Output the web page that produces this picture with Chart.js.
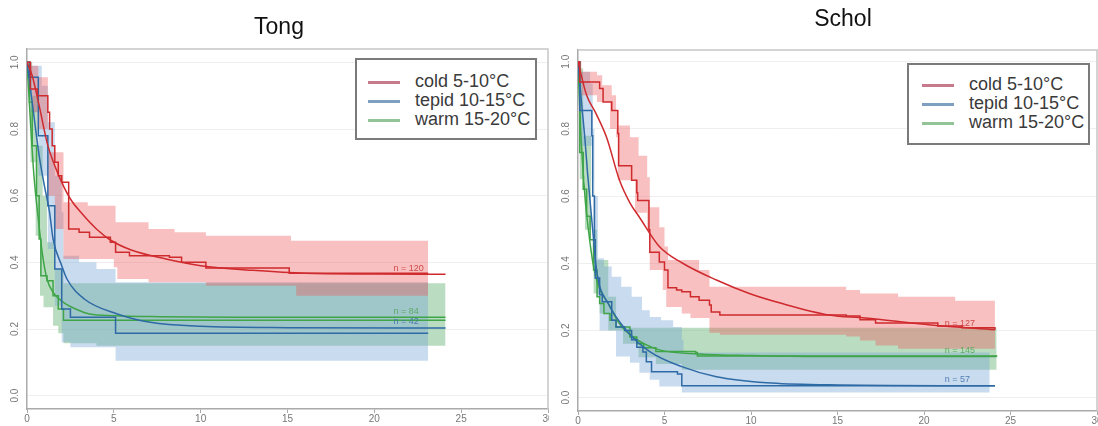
<!DOCTYPE html>
<html>
<head>
<meta charset="utf-8">
<script src="https://cdn.jsdelivr.net/npm/chart.js@4.4.1/dist/chart.umd.min.js"></script>
<style>
  body { margin: 0; background: #fff; font-family: "Liberation Sans", Arial, sans-serif; }
  #wrap { position: relative; width: 1098px; height: 426px; overflow: hidden; }
  .panel { position: absolute; top: 0; width: 549px; height: 426px; }
  .title { position: absolute; font-size: 23px; line-height: 23px; color: #111; transform: translateX(-50%); white-space: nowrap; }
  .legend { position: absolute; box-sizing: border-box; border: 2px solid #7a7a7a; background: #fff; height: 82px; }
  .legend div { height: 19px; line-height: 19px; font-size: 18px; color: #3a3a3a; white-space: nowrap; }
  .legend span { display: inline-block; width: 32px; height: 3px; vertical-align: middle; margin-right: 15px; }
</style>
</head>
<body>
<div id="wrap">
  <div class="panel" style="left:0"><canvas id="tong" width="549" height="426"></canvas></div>
  <div class="panel" style="left:549px"><canvas id="schol" width="549" height="426"></canvas></div>
  <div class="title" style="left:279px;top:15px">Tong</div>
  <div class="title" style="left:843px;top:7px">Schol</div>
  <div class="legend" id="legTong" style="left:355px;top:58px;width:182px;padding:12px 0 0 11px"></div>
  <div class="legend" id="legSchol" style="left:907px;top:63px;width:183px;padding:10px 0 0 13px"></div>
</div>
<script>
// axes
const xTicks = [0, 5, 10, 15, 20, 25, 30];
const yTicks = [0, 0.2, 0.4, 0.6, 0.8, 1.0];

const groups = ["cold 5-10°C", "tepid 10-15°C", "warm 15-20°C"];
const lineColors = ["#cf2a2e", "#2e6aa6", "#3fa548"];
const bandColors = ["rgba(236,90,90,0.38)", "rgba(120,165,212,0.40)", "rgba(90,172,105,0.42)"];
const legendColors = ["#c77a8c", "#7d9fc0", "#92c496"];

// Tong : [tiempo, supervivencia]
const tongColdKM = [[0,1],[0.2,0.92],[0.6,0.9],[1.2,0.85],[1.3,0.8],[1.45,0.75],[1.6,0.7],[1.8,0.66],[2.0,0.64],[2.4,0.5],[3.0,0.49],[3.6,0.475],[4.8,0.46],[5.1,0.43],[5.9,0.42],[8.2,0.415],[8.9,0.4],[10.3,0.383],[15.1,0.367],[23.1,0.367]];
const tongColdFit = [[0,1],[0.3,0.96],[0.7,0.87],[1.2,0.75],[1.6,0.69],[2,0.64],[2.5,0.59],[3.1,0.55],[4,0.5],[4.8,0.467],[6,0.437],[8,0.41],[10,0.39],[13,0.376],[16,0.367],[20,0.365],[24.1,0.364]];
const tongColdHi = [[0,0.99],[0.65,0.955],[1.2,0.73],[2.1,0.58],[3.5,0.57],[5.1,0.52],[7,0.5],[8.5,0.49],[10.3,0.48],[15.2,0.465],[23.1,0.465]];
const tongColdLo = [[0,0.97],[0.3,0.85],[0.6,0.8],[1.2,0.6],[1.6,0.5],[2.1,0.41],[5.0,0.385],[5.2,0.35],[7,0.34],[10.3,0.33],[15.5,0.3],[23.1,0.29]];

const tongTepidKM = [[0,1],[0.15,0.955],[0.65,0.78],[1.2,0.57],[1.6,0.38],[2.0,0.26],[2.5,0.235],[5.1,0.187],[23.1,0.187]];
const tongTepidFit = [[0,1],[0.3,0.88],[0.7,0.72],[1.0,0.63],[1.3,0.55],[1.5,0.47],[2.0,0.39],[2.3,0.35],[3.3,0.29],[5.2,0.245],[7.1,0.22],[10,0.208],[15,0.204],[24.1,0.203]];
const tongTepidHi = [[0,0.99],[0.85,0.93],[1.2,0.82],[1.6,0.66],[2.0,0.55],[2.1,0.42],[3,0.4],[4,0.38],[5.1,0.34],[23.1,0.33]];
const tongTepidLo = [[0,0.95],[0.15,0.85],[0.65,0.66],[1.2,0.44],[1.6,0.27],[2.0,0.16],[2.5,0.145],[5.1,0.105],[23.1,0.105]];

const tongWarmKM = [[0,1],[0.15,0.88],[0.3,0.75],[0.55,0.6],[0.7,0.47],[0.8,0.36],[1.15,0.345],[1.5,0.3],[1.8,0.26],[2.1,0.226],[24.1,0.226]];
const tongWarmFit = [[0,1],[0.2,0.82],[0.4,0.66],[0.65,0.53],[0.9,0.42],[1.15,0.35],[1.5,0.31],[2.1,0.28],[2.8,0.26],[3.6,0.245],[5,0.24],[7.7,0.237],[12,0.235],[24.1,0.235]];
const tongWarmHi = [[0,1],[0.3,0.9],[0.6,0.75],[0.9,0.6],[1.15,0.46],[1.6,0.38],[2.1,0.337],[24.1,0.337]];
const tongWarmLo = [[0,0.97],[0.2,0.7],[0.5,0.48],[0.75,0.3],[0.95,0.265],[1.5,0.21],[1.8,0.187],[2.1,0.157],[4,0.15],[24.1,0.15]];

const tongN = [["n = 120", 21.1, 0.38], ["n = 84", 21.1, 0.253], ["n = 42", 21.1, 0.223]];

// Schol
const scholColdKM = [[0,1],[0.1,0.94],[1.25,0.92],[1.45,0.88],[1.95,0.855],[2.3,0.786],[2.35,0.69],[3.1,0.647],[3.4,0.61],[3.45,0.587],[4.1,0.5],[4.15,0.433],[4.7,0.404],[5.0,0.38],[5.2,0.327],[5.7,0.32],[6.0,0.315],[6.5,0.3],[7.0,0.29],[7.6,0.276],[7.7,0.255],[8.2,0.246],[15.5,0.243],[16.3,0.232],[17.2,0.222],[20.8,0.213],[22.2,0.208],[24.1,0.202]];
const scholColdFit = [[0,1],[0.5,0.9],[1.0,0.85],[1.65,0.775],[2.4,0.647],[3.0,0.58],[3.55,0.537],[4.7,0.45],[6.05,0.4],[8,0.35],[9.9,0.31],[11.8,0.28],[14.5,0.246],[16.6,0.237],[20.4,0.216],[24.1,0.202]];
const scholColdHi = [[0,1],[0.2,0.97],[1.1,0.96],[1.4,0.93],[1.95,0.9],[2.2,0.855],[2.3,0.81],[3.0,0.775],[3.5,0.72],[4.0,0.656],[4.15,0.567],[4.7,0.507],[5.0,0.45],[5.2,0.41],[7,0.38],[7.6,0.33],[15.5,0.32],[16.3,0.31],[18.5,0.3],[21.8,0.288],[24.1,0.288]];
const scholColdLo = [[0,0.97],[0.2,0.9],[1.1,0.88],[1.85,0.8],[2.2,0.775],[2.3,0.647],[3.3,0.55],[4.0,0.5],[4.1,0.47],[4.15,0.38],[4.9,0.32],[5.1,0.27],[6.0,0.25],[6.5,0.237],[7.6,0.193],[8.2,0.187],[15.5,0.182],[16.3,0.17],[17.2,0.155],[18.5,0.145],[24.1,0.142]];

const scholTepidKM = [[0,1],[0.1,0.855],[0.8,0.78],[0.85,0.6],[0.95,0.47],[1.0,0.356],[1.25,0.306],[1.4,0.285],[1.95,0.23],[2.2,0.21],[2.7,0.2],[3.1,0.172],[3.4,0.15],[3.75,0.136],[3.95,0.107],[4.25,0.077],[5.75,0.07],[6.0,0.035],[24.1,0.035]];
const scholTepidFit = [[0,1],[0.2,0.88],[0.4,0.77],[0.55,0.67],[0.9,0.47],[1.1,0.37],[1.75,0.28],[2.8,0.2],[4.15,0.137],[6.0,0.092],[8,0.062],[10.9,0.044],[14.5,0.038],[24.1,0.035]];
const scholTepidHi = [[0,1],[0.1,0.97],[0.7,0.935],[0.85,0.8],[0.95,0.6],[1.15,0.415],[1.5,0.39],[1.95,0.36],[2.5,0.33],[3.1,0.3],[3.7,0.26],[4.15,0.24],[4.8,0.23],[5.5,0.21],[6.0,0.172],[6.1,0.134],[23.8,0.134]];
const scholTepidLo = [[0,0.95],[0.1,0.75],[0.8,0.65],[0.9,0.4],[1.1,0.3],[1.25,0.2],[2.2,0.122],[3.0,0.104],[3.55,0.074],[4.15,0.053],[4.7,0.033],[6.0,0.015],[23.8,0.015]];

const scholWarmKM = [[0,1],[0.1,0.73],[0.3,0.62],[0.5,0.54],[0.7,0.47],[0.9,0.38],[1.1,0.3],[1.25,0.28],[1.5,0.25],[1.85,0.23],[2.2,0.21],[3.0,0.18],[3.4,0.16],[3.8,0.148],[4.5,0.137],[6.8,0.134],[6.9,0.124],[24.2,0.122]];
const scholWarmFit = [[0,1],[0.15,0.8],[0.4,0.6],[0.6,0.5],[0.9,0.39],[1.2,0.33],[1.75,0.28],[2.4,0.22],[3.2,0.18],[4.7,0.142],[7,0.13],[10,0.125],[14,0.122],[24.2,0.122]];
const scholWarmHi = [[0,1],[0.1,0.98],[0.3,0.78],[0.75,0.5],[1.1,0.41],[1.75,0.3],[2.2,0.208],[24.2,0.205]];
const scholWarmLo = [[0,0.95],[0.1,0.65],[0.4,0.5],[0.9,0.31],[1.25,0.25],[1.75,0.2],[2.6,0.16],[3.5,0.12],[4.5,0.1],[6,0.083],[24.2,0.08]];

const scholN = [["n = 127", 21.2, 0.22], ["n = 145", 21.2, 0.14], ["n = 57", 21.2, 0.053]];

const nColors = ["rgba(200,50,50,0.85)", "rgba(80,165,85,0.85)", "rgba(60,110,170,0.85)"];

let pts = (arr) => arr.map((p) => ({ x: p[0], y: p[1] }));

// arma los datasets: primero bandas (order alto = se dibujan antes), luego lineas
let buildDatasets = (series) => {
  let ds = [];
  series.forEach((s, i) => {
    ds.push({ data: pts(s.hi), stepped: true, borderWidth: 0, pointRadius: 0, fill: "+1", backgroundColor: bandColors[i], order: 2 });
    ds.push({ data: pts(s.lo), stepped: true, borderWidth: 0, pointRadius: 0, fill: false, order: 2 });
  });
  series.forEach((s, i) => {
    ds.push({ data: pts(s.km), stepped: true, borderColor: lineColors[i], borderWidth: 1.5, pointRadius: 0, fill: false, order: 0 });
    ds.push({ data: pts(s.fit), cubicInterpolationMode: "monotone", borderColor: lineColors[i], borderWidth: 1.5, pointRadius: 0, fill: false, order: 0 });
  });
  return ds;
};

let framePlugin = {
  id: "frame",
  afterDraw(chart, args, opts) {
    const { ctx, chartArea: a, scales } = chart;
    ctx.save();
    ctx.strokeStyle = "#c6c6c6";
    ctx.lineWidth = 1.5;
    ctx.beginPath();
    ctx.moveTo(a.left, a.top);
    ctx.lineTo(a.right, a.top);
    ctx.lineTo(a.right, a.bottom);
    ctx.stroke();
    // etiquetas del eje y, giradas como en R
    ctx.fillStyle = "#777";
    ctx.font = "10px 'Liberation Sans', Arial, sans-serif";
    ctx.textAlign = "center";
    ctx.textBaseline = "middle";
    yTicks.forEach((v) => {
      const y = scales.y.getPixelForValue(v);
      ctx.save();
      ctx.translate(a.left - 12, y);
      ctx.rotate(-Math.PI / 2);
      ctx.fillText(v.toFixed(1), 0, 0);
      ctx.restore();
    });
    // etiquetas n = ...
    ctx.font = "9px 'Liberation Sans', Arial, sans-serif";
    ctx.textAlign = "left";
    opts.labels.forEach((l, i) => {
      ctx.fillStyle = nColors[i];
      ctx.fillText(l[0], scales.x.getPixelForValue(l[1]), scales.y.getPixelForValue(l[2]));
    });
    ctx.restore();
  },
};

let makeChart = (id, series, labels, yMax, yAxisW, xAxisH, padTop) => {
  return new Chart(document.getElementById(id), {
    type: "line",
    data: { datasets: buildDatasets(series) },
    options: {
      responsive: false,
      animation: false,
      events: [],
      layout: { padding: { top: padTop, right: 1, left: 0, bottom: 0 } },
      plugins: { legend: { display: false }, tooltip: { enabled: false }, frame: { labels: labels } },
      scales: {
        x: {
          type: "linear",
          min: 0,
          max: 30,
          afterBuildTicks: (s) => { s.ticks = xTicks.map((v) => ({ value: v })); },
          afterFit: (s) => { s.height = xAxisH; s.paddingLeft = 0; s.paddingRight = 0; },
          ticks: { color: "#777", font: { size: 10, family: "'Liberation Sans', Arial" }, padding: 0, maxRotation: 0, autoSkip: false },
          grid: { drawOnChartArea: false, tickLength: 4, color: "#aaa" },
          border: { color: "#aaa", width: 1.5 },
        },
        y: {
          type: "linear",
          min: -0.04,
          max: yMax,
          afterBuildTicks: (s) => { s.ticks = yTicks.map((v) => ({ value: v })); },
          afterFit: (s) => { s.width = yAxisW; s.paddingTop = 0; s.paddingBottom = 0; },
          ticks: { display: false },
          grid: { color: "#efefef", tickLength: 0 },
          border: { color: "#aaa", width: 1.5 },
        },
      },
    },
    plugins: [framePlugin],
  });
};

makeChart("tong", [
  { km: tongColdKM, fit: tongColdFit, hi: tongColdHi, lo: tongColdLo },
  { km: tongTepidKM, fit: tongTepidFit, hi: tongTepidHi, lo: tongTepidLo },
  { km: tongWarmKM, fit: tongWarmFit, hi: tongWarmHi, lo: tongWarmLo },
], tongN, 1.04, 27, 17, 49);

makeChart("schol", [
  { km: scholColdKM, fit: scholColdFit, hi: scholColdHi, lo: scholColdLo },
  { km: scholTepidKM, fit: scholTepidFit, hi: scholTepidHi, lo: scholTepidLo },
  { km: scholWarmKM, fit: scholWarmFit, hi: scholWarmHi, lo: scholWarmLo },
], scholN, 1.035, 29, 15, 50);

// leyendas en HTML
let paintLegend = (id) => {
  let box = document.getElementById(id);
  groups.forEach((g, i) => {
    box.innerHTML += `<div><span style="background:${legendColors[i]}"></span>${g}</div>`;
  });
};
paintLegend("legTong");
paintLegend("legSchol");
</script>
</body>
</html>
